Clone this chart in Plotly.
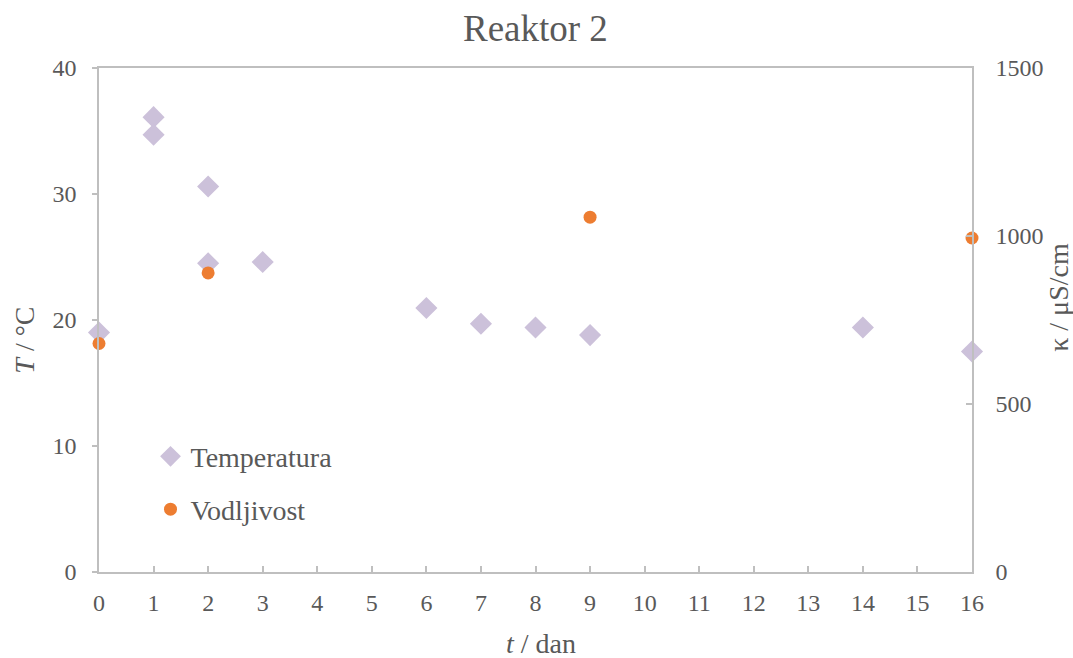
import plotly.graph_objects as go

# Data
temp_day = [0, 1, 1, 2, 2, 3, 6, 7, 8, 9, 14, 16]
temp_val = [19.0, 36.1, 34.7, 30.6, 24.5, 24.6, 20.95, 19.7, 19.4, 18.8, 19.4, 17.5]
cond_day = [0, 2, 9, 16]
cond_val = [680, 890, 1056, 994]

x_ticks = list(range(0, 17))

FONT = "Liberation Serif, Times New Roman, serif"
TXT = "#595959"
AX = "#bfbfbf"

fig = go.Figure()
fig.add_trace(go.Scatter(
    x=temp_day, y=temp_val, mode="markers", name="Temperatura", showlegend=True,
    marker=dict(symbol="diamond", size=17, color="#ccc1da"),
    cliponaxis=False, legend="legend", yaxis="y"))
fig.add_trace(go.Scatter(
    x=cond_day, y=cond_val, mode="markers", name="Vodljivost", showlegend=True,
    marker=dict(symbol="circle", size=13, color="#ed7d31"),
    cliponaxis=False, legend="legend2", yaxis="y2"))

tickfont = dict(size=24, color=TXT, family=FONT)
fig.update_layout(
    width=1073, height=658,
    margin=dict(l=98.5, r=101, t=68, b=85.5),
    paper_bgcolor="white", plot_bgcolor="white",
    showlegend=True,
    font=dict(family=FONT, color=TXT, size=24),
    xaxis=dict(range=[0, 16], tickvals=x_ticks, ticktext=[str(v) for v in x_ticks],
               automargin=False,
               showgrid=False, zeroline=False, showline=True, linecolor=AX, linewidth=1.5,
               mirror=True, ticks="inside", ticklen=6, tickcolor=AX, tickwidth=1.5,
               ticklabelstandoff=8, tickfont=tickfont),
    yaxis=dict(range=[0, 40], dtick=10, automargin=False, showgrid=False, zeroline=False,
               showline=True, linecolor=AX, linewidth=1.5, ticks="outside", ticklen=5,
               tickcolor=AX, tickwidth=1.5, ticklabelstandoff=11, tickfont=tickfont),
    yaxis2=dict(range=[0, 1500], dtick=500, overlaying="y", side="right", automargin=False,
                showgrid=False, zeroline=False, showline=True, linecolor=AX, linewidth=1.5,
                ticks="inside", ticklen=6, tickcolor=AX, tickwidth=1.5, ticklabelstandoff=17,
                tickfont=tickfont),
    legend=dict(x=0.059, y=0.229, xanchor="left", yanchor="middle", bgcolor="rgba(0,0,0,0)",
                font=dict(size=28, color=TXT, family=FONT), itemwidth=30),
    legend2=dict(x=0.059, y=0.124, xanchor="left", yanchor="middle", bgcolor="rgba(0,0,0,0)",
                 font=dict(size=28, color=TXT, family=FONT), itemwidth=30),
    annotations=[
        dict(text="Reaktor 2", xref="paper", yref="paper", x=0.5, y=1.0783,
             xanchor="center", yanchor="middle", showarrow=False,
             font=dict(size=37, color=TXT, family=FONT)),
        dict(text="<i>t</i> / dan", xref="paper", yref="paper", x=0.5066, y=-0.1418,
             xanchor="center", yanchor="middle", showarrow=False,
             font=dict(size=28, color=TXT, family=FONT)),
        dict(text="<i>T</i> / °C", xref="paper", yref="paper", x=-0.0853, y=0.46,
             xanchor="center", yanchor="middle", showarrow=False, textangle=-90,
             font=dict(size=28, color=TXT, family=FONT)),
        dict(text="κ / μS/cm", xref="paper", yref="paper", x=1.0996, y=0.546,
             xanchor="center", yanchor="middle", showarrow=False, textangle=-90,
             font=dict(size=28, color=TXT, family=FONT)),
    ],
)

fig.write_html("out.html", config={"displayModeBar": False},
               post_script="document.body.style.margin='0';document.body.style.overflow='hidden';")
